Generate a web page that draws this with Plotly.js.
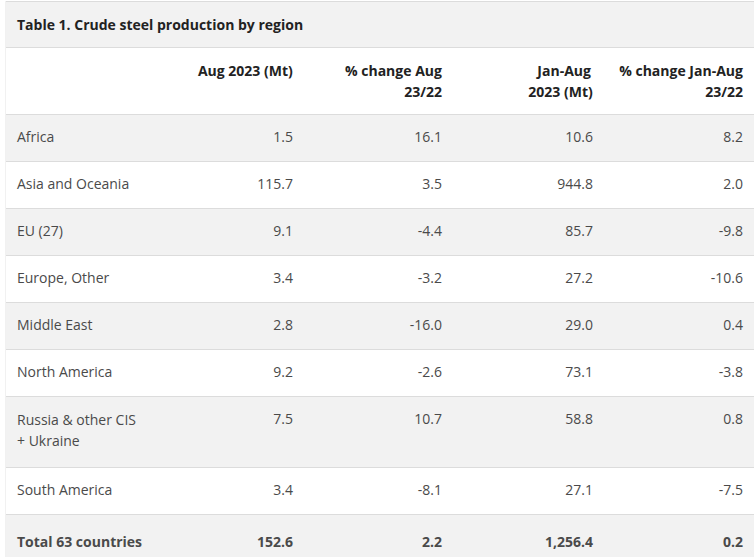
<!DOCTYPE html>
<html>
<head>
<meta charset="utf-8">
<script src="https://cdn.plot.ly/plotly-3.0.1.min.js"></script>
<style>
html, body { margin: 0; padding: 0; overflow: hidden; background: #ffffff; }
#chart { width: 756px; height: 650px; }
</style>
</head>
<body>
<div id="chart"></div>
<script>
// ---- data ----
const tableTitle = 'Table 1. Crude steel production by region';
const headerLine1 = ['', 'Aug 2023 (Mt)', '% change Aug', 'Jan-Aug', '% change Jan-Aug'];
const headerLine2 = ['', '', '23/22', '2023 (Mt)', '23/22'];
const regions = ['Africa', 'Asia and Oceania', 'EU (27)', 'Europe, Other', 'Middle East', 'North America',
                 'Russia & other CIS<br>+ Ukraine', 'South America', 'Total 63 countries'];
const aug2023 = [1.5, 115.7, 9.1, 3.4, 2.8, 9.2, 7.5, 3.4, 152.6];
const changeAug = [16.1, 3.5, -4.4, -3.2, -16.0, -2.6, 10.7, -8.1, 2.2];
const janAug2023 = [10.6, 944.8, 85.7, 27.2, 29.0, 73.1, 58.8, 27.1, 1256.4];
const changeJanAug = [8.2, 2.0, -9.8, -10.6, 0.4, -3.8, 0.8, -7.5, 0.2];

// ---- styling ----
const W = 756, H = 650;
const FONT = 'Open Sans';
const GRAY = '#f2f2f2', LINE = '#dcdcdc', CLEAR = 'rgba(0,0,0,0)';
const FS = 14;
const totalIdx = regions.length - 1;
const rowFill = regions.map((r, i) => (i % 2 === 0 ? GRAY : '#ffffff'));

// multi-line labels are drawn line by line in their own layers (reference line spacing);
// every layer pads those cells to three lines so all layers share the same row heights
const PAD = '<br>\u00a0<br>\u00a0';
const HOLD = '\u00a0' + PAD;
const isMulti = (s) => s.indexOf('<br>') >= 0;
const keep = (s) => s.replace(/ /g, '\u00a0');            // no automatic wrapping
const bold = (s, i) => (i === totalIdx && s ? '<b>' + s + '</b>' : s);
const labelMain = regions.map((r, i) => (isMulti(r) ? HOLD : bold(keep(r), i)));
const labelPart = (k) => regions.map((r, i) => (isMulti(r) ? bold(keep(r.split('<br>')[k]), i) + PAD : ''));
const fmtNum = (v) => v.toLocaleString('en-US', { minimumFractionDigits: 1, maximumFractionDigits: 1 });
const numCells = (arr) => arr.map((v, i) => bold(fmtNum(v), i));
const blanks = regions.map(() => '');

const px = (p) => p / H;
const topLine = 1, titleH = 46, headerH = 67, rowH = 47;
const titleShift = 6, headShift = 6, cellExtra = 9.5, lineGap = 21, multiLift = 4;
const left = 5, right = 755, textL = 9, textR = 751;
const colW = [142, 150, 149, 151, 150];
const aligns = ['left', 'right', 'right', 'right', 'right'];
const tableTop = topLine + titleH;
const textHeaderH = headerH + cellExtra - headShift;
const noBox = { fill: { color: CLEAR }, line: { color: CLEAR, width: 0 } };
const TXT = '#4a4a4a', HEAD = '#222222';

// title strip background
const titleBg = {
  type: 'table',
  domain: { x: [left / W, right / W], y: [1 - px(tableTop + 1), 1 - px(topLine)] },
  header: { values: [''], height: titleH, fill: { color: GRAY }, line: { color: LINE, width: 1 },
            font: { family: FONT, size: FS, color: CLEAR } },
  cells: { values: [[]] }
};
// title text
const titleText = {
  type: 'table',
  domain: { x: [textL / W, textR / W], y: [1 - px(tableTop + 1), 1 - px(topLine + titleShift)] },
  header: Object.assign({ values: ['<b>' + tableTitle + '</b>'], align: 'left', height: titleH - titleShift,
            font: { family: FONT, size: FS, color: HEAD } }, noBox),
  cells: { values: [[]] }
};

// row backgrounds + horizontal rules
const ruleTrace = {
  type: 'table',
  domain: { x: [left / W, right / W], y: [0, 1 - px(tableTop)] },
  header: { values: [''], height: headerH, fill: { color: '#ffffff' }, line: { color: LINE, width: 1 },
            font: { family: FONT, size: FS, color: CLEAR } },
  cells: { values: [labelMain], height: rowH, fill: { color: [rowFill] }, line: { color: LINE, width: 1 },
           font: { family: FONT, size: FS, color: CLEAR } }
};

// column header first line + all single-line cell texts
const textTrace = {
  type: 'table',
  domain: { x: [textL / W, textR / W], y: [0, 1 - px(tableTop + headShift)] },
  columnwidth: colW,
  header: Object.assign({ values: headerLine1.map(h => '<b>' + h + '</b>'), align: aligns, height: textHeaderH,
            font: { family: FONT, size: FS, color: HEAD } }, noBox),
  cells: Object.assign({ values: [labelMain, numCells(aug2023), numCells(changeAug), numCells(janAug2023), numCells(changeJanAug)],
           align: aligns, height: rowH, font: { family: FONT, size: FS, color: TXT } }, noBox)
};

// column header second line
const headLine2Trace = {
  type: 'table',
  domain: { x: [textL / W, textR / W], y: [0, 1 - px(tableTop + headShift + lineGap)] },
  columnwidth: colW,
  header: Object.assign({ values: headerLine2.map(h => '<b>' + h + '</b>'), align: aligns, height: textHeaderH,
            font: { family: FONT, size: FS, color: HEAD } }, noBox),
  cells: { values: [[], [], [], [], []] }
};

// wrapped labels, line k
function labelLayer(k) {
  return {
    type: 'table',
    domain: { x: [textL / W, textR / W], y: [0, 1 - px(tableTop + headShift - multiLift + k * lineGap)] },
    columnwidth: colW,
    header: Object.assign({ values: ['', '', '', '', ''], height: textHeaderH,
              font: { family: FONT, size: FS, color: CLEAR } }, noBox),
    cells: Object.assign({ values: [labelPart(k), blanks, blanks, blanks, blanks],
             align: aligns, height: rowH, font: { family: FONT, size: FS, color: TXT } }, noBox)
  };
}

Plotly.newPlot('chart', [titleBg, ruleTrace, titleText, textTrace, headLine2Trace, labelLayer(0), labelLayer(1)], {
  width: W, height: H,
  margin: { l: 0, r: 0, t: 0, b: 0 },
  paper_bgcolor: '#ffffff',
  showlegend: false,
  shapes: [
    { type: 'rect', xref: 'paper', yref: 'paper', x0: 0, x1: (left + 0.6) / W, y0: 0, y1: 1,
      fillcolor: '#ffffff', line: { width: 0 }, layer: 'above' },
    { type: 'rect', xref: 'paper', yref: 'paper', x0: (right - 1) / W, x1: 1, y0: 0, y1: 1,
      fillcolor: '#ffffff', line: { width: 0 }, layer: 'above' }
  ]
}, { displayModeBar: false, staticPlot: true });
</script>
</body>
</html>
